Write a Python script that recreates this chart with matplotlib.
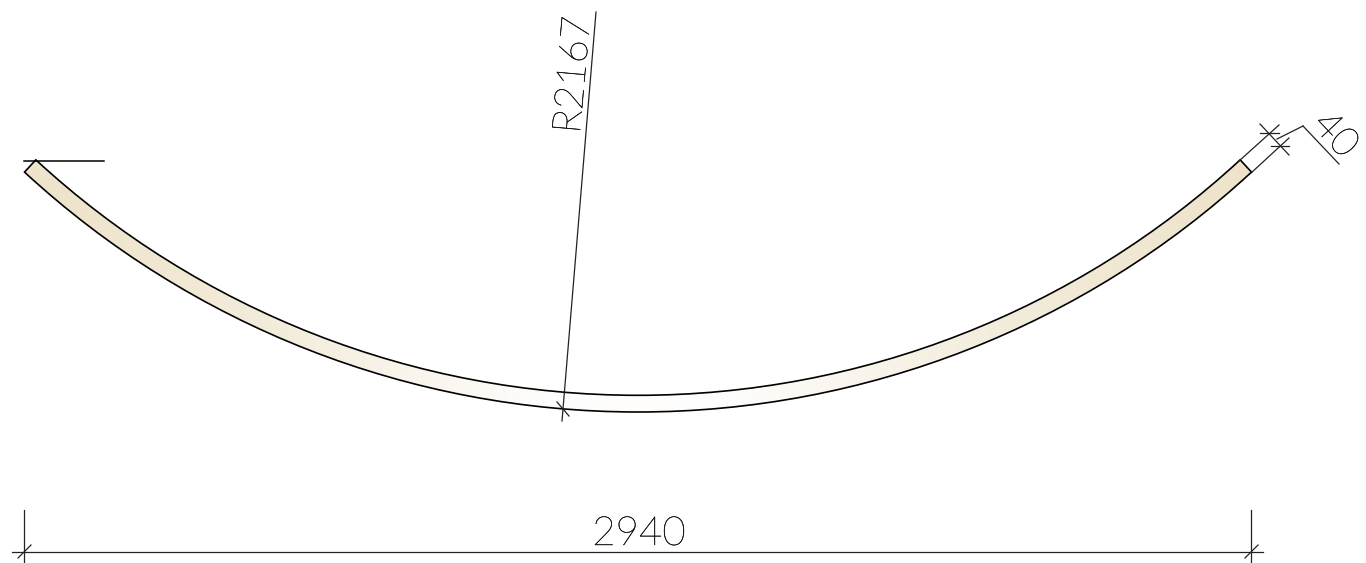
import numpy as np
from matplotlib import pyplot as plt
from matplotlib import patheffects
from matplotlib.colors import LinearSegmentedColormap
from matplotlib.patches import Wedge

# dimensions from the drawing, in mm
span = 2940
radius = 2167
thickness = 40
labels = ['2940', 'R2167', '40']

# drawing scale and placement on the sheet (pixels)
px_per_mm = 1227 / span
mid_x = 638
low_y = 412

# dimension lines, as (x0, y0, x1, y1) in sheet pixels
thin_lines = [
    (24, 510, 24, 562), (1251, 510, 1251, 562), (12, 552, 1263, 552),
    (18, 558, 31, 545), (1245, 558, 1258, 545),
    (596, 12, 562, 421), (557, 402, 569, 416),
    (1239, 161, 1279, 125), (1251, 173, 1289, 138),
    (1260, 124, 1289, 155), (1260, 133, 1279, 133), (1271, 146, 1289, 146),
    (1277, 139, 1303, 126), (1303, 126, 1339, 164),
]
ref_line = (24, 160.5, 104, 160.5)


def main():
    fig = plt.figure(figsize=(13.66, 5.63), dpi=100)
    ax = fig.add_axes([0, 0, 1, 1])

    r_out = radius * px_per_mm
    half = np.degrees(np.arcsin(span / 2 / radius))
    centre = (mid_x, low_y - r_out)

    shell = Wedge(centre, r_out, 90 - half, 90 + half, width=thickness * px_per_mm,
                  facecolor='none', edgecolor='black', linewidth=1.2, zorder=3)
    ax.add_patch(shell)

    # pale wood colour fading out to the middle of the shell
    wood = LinearSegmentedColormap.from_list(
        'wood', [(0, '#eee3ca'), (0.2, '#f3ecdb'), (0.42, '#fefdfb'), (0.58, '#fefdfb'),
                 (0.8, '#f3ecdb'), (1, '#eee3ca')])
    grad = np.linspace(0, 1, 256).reshape(1, -1)
    img = ax.imshow(grad, cmap=wood, extent=(24, 1252, 412, 158), aspect='auto', zorder=2)
    img.set_clip_path(shell)

    for x0, y0, x1, y1 in thin_lines:
        ax.plot([x0, x1], [y0, y1], color='#222222', linewidth=0.9, zorder=4)
    ax.plot(ref_line[::2], ref_line[1::2], color='black', linewidth=1.1, zorder=4)

    # the light weight comes out as hairline, so stroke it a little
    stroke = [patheffects.withStroke(linewidth=0.3, foreground='#111111')]
    font = dict(family=['Lato', 'DejaVu Sans'], fontweight='light', fontsize=29,
                color='#111111', ha='center', va='center', rotation_mode='anchor',
                path_effects=stroke)
    ax.text(639, 534, labels[0], **font)
    ax.text(574, 75, labels[1], rotation=85, **font)
    ax.text(1335, 135, labels[2], rotation=-47, **font)

    ax.set_xlim(0, 1366)
    ax.set_ylim(563, 0)
    ax.axis('off')
    fig.savefig('out.png', dpi=100, facecolor='white')


main()
